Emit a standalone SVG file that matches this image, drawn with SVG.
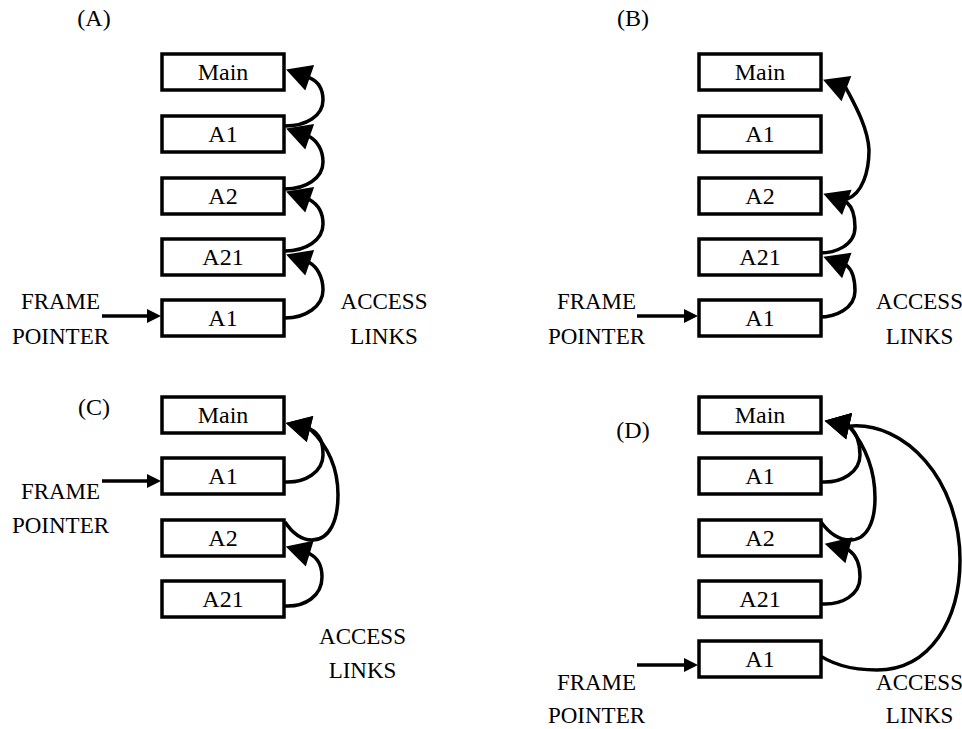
<svg xmlns="http://www.w3.org/2000/svg" width="962" height="729" viewBox="0 0 962 729">
<style>
.box{fill:#fff;stroke:#000;stroke-width:3.5}
.t{font-family:"Liberation Serif","Times New Roman",serif;font-size:24px;text-anchor:middle;fill:#000}
.lbl{font-family:"Liberation Serif","Times New Roman",serif;font-size:23px;text-anchor:middle;fill:#000}
.link{fill:none;stroke:#000;stroke-width:3.5;marker-end:url(#ah)}
.fp{fill:none;stroke:#000;stroke-width:3.5;marker-end:url(#fpa)}
</style>
<defs>
<marker id="ah" markerUnits="userSpaceOnUse" viewBox="0 -14 26 28" markerWidth="26" markerHeight="28" refX="1" refY="0" orient="auto" overflow="visible"><path d="M0,-13.5 L25,0 L0,13.5 Z" fill="#000"/></marker>
<marker id="fpa" markerUnits="userSpaceOnUse" viewBox="0 -8 15 16" markerWidth="15" markerHeight="16" refX="3" refY="0" orient="auto" overflow="visible"><path d="M0,-7 L14,0 L0,7 Z" fill="#000"/></marker>
</defs>
<rect width="962" height="729" fill="#fff"/>

<g id="labels">
<text class="t" x="94" y="26">(A)</text>
<text class="t" x="633" y="26">(B)</text>
<text class="t" x="94" y="415">(C)</text>
<text class="t" x="633" y="438">(D)</text>
<text class="lbl" x="60.5" y="309">FRAME</text>
<text class="lbl" x="60.5" y="344">POINTER</text>
<text class="lbl" x="384" y="309">ACCESS</text>
<text class="lbl" x="384" y="344">LINKS</text>
<text class="lbl" x="596.5" y="309">FRAME</text>
<text class="lbl" x="596.5" y="344">POINTER</text>
<text class="lbl" x="919.5" y="309">ACCESS</text>
<text class="lbl" x="919.5" y="344">LINKS</text>
<text class="lbl" x="60.5" y="499">FRAME</text>
<text class="lbl" x="60.5" y="532.5">POINTER</text>
<text class="lbl" x="362.5" y="644">ACCESS</text>
<text class="lbl" x="362.5" y="678">LINKS</text>
<text class="lbl" x="596.5" y="690">FRAME</text>
<text class="lbl" x="596.5" y="723">POINTER</text>
<text class="lbl" x="919.5" y="690">ACCESS</text>
<text class="lbl" x="919.5" y="723">LINKS</text>
</g>

<g id="connectors">
<path class="link" d="M285,126 C306,126 323,116 323,100 C323,88 317,81 309.7,77.8 l-0.95,-0.33"/>
<path class="link" d="M285,189 C306,189 323,178 323,162 C323,150 317,141 309.7,136.8 l-0.95,-0.33"/>
<path class="link" d="M285,251 C306,251 323,240 323,224 C323,212 317,204 309.7,199.8 l-0.95,-0.33"/>
<path class="link" d="M285,318 C306,318 323,306 323,290 C323,277 317,267 309.7,262.8 l-0.95,-0.33"/>
<path class="fp" d="M102,316 H150"/>

<path class="link" d="M847,199 C862,194 869,172 869,150 C868,128 855,105 846.4,88.7 l-0.93,-0.36"/>
<path class="link" d="M816,253 C836,254 855,245 855,227 C855,216 852,207 846.8,202.4 l-0.94,-0.35"/>
<path class="link" d="M816,317 C836,318 855,308 855,291 C855,279 852,270 846.8,265.5 l-0.94,-0.35"/>
<path class="fp" d="M637,316 H687"/>

<path class="link" d="M285,482 C305,483 323,472 323,455 C323,444 321,434 310,429 l-0.97,-0.24"/>
<path class="link" d="M285,522 C293,534 302,540 312,540 C330,540 338,520 338,495 C338,470 330,448 310,429 l-0.97,-0.24"/>
<path class="link" d="M285,606 C305,607 322,596 322,577 C322,566 318,558 309.7,553.7 l-0.96,-0.29"/>
<path class="fp" d="M102,481 H150"/>

<path class="link" d="M822,482 C842,483 860,472 860,455 C860,444 858,434 849.1,426.2 l-0.98,-0.22"/>
<path class="link" d="M821,522 C829,533 838,540 850,540 C867,540 875,522 875,498 C875,472 866,447 849.1,426.2 l-0.98,-0.22"/>
<path class="link" d="M822,604 C842,605 860,595 860,577 C860,566 857,556 848.9,550.2 l-0.97,-0.26"/>
<path class="link" d="M815,652 C830,664 850,670 877,670 C930,670 960,620 960,560 C960,480 905,421 849.1,426.2 l-0.98,-0.22"/>
<path class="fp" d="M637,665 H687"/>
</g>

<g id="A-main"><rect class="box" x="162" y="54" width="122" height="36"/><text class="t" x="223" y="80">Main</text></g>
<g id="A-a1"><rect class="box" x="162" y="116" width="122" height="36"/><text class="t" x="223" y="142">A1</text></g>
<g id="A-a2"><rect class="box" x="162" y="178" width="122" height="36"/><text class="t" x="223" y="204">A2</text></g>
<g id="A-a21"><rect class="box" x="162" y="239" width="122" height="36"/><text class="t" x="223" y="265">A21</text></g>
<g id="A-a1b"><rect class="box" x="162" y="300" width="122" height="36"/><text class="t" x="223" y="326">A1</text></g>

<g id="B-main"><rect class="box" x="699" y="54" width="122" height="36"/><text class="t" x="760" y="80">Main</text></g>
<g id="B-a1"><rect class="box" x="699" y="116" width="122" height="36"/><text class="t" x="760" y="142">A1</text></g>
<g id="B-a2"><rect class="box" x="699" y="178" width="122" height="36"/><text class="t" x="760" y="204">A2</text></g>
<g id="B-a21"><rect class="box" x="699" y="239" width="122" height="36"/><text class="t" x="760" y="265">A21</text></g>
<g id="B-a1b"><rect class="box" x="699" y="300" width="122" height="36"/><text class="t" x="760" y="326">A1</text></g>

<g id="C-main"><rect class="box" x="162" y="397" width="122" height="36"/><text class="t" x="223" y="423">Main</text></g>
<g id="C-a1"><rect class="box" x="162" y="458" width="122" height="36"/><text class="t" x="223" y="484">A1</text></g>
<g id="C-a2"><rect class="box" x="162" y="520" width="122" height="36"/><text class="t" x="223" y="546">A2</text></g>
<g id="C-a21"><rect class="box" x="162" y="581" width="122" height="36"/><text class="t" x="223" y="607">A21</text></g>

<g id="D-main"><rect class="box" x="699" y="397" width="122" height="36"/><text class="t" x="760" y="423">Main</text></g>
<g id="D-a1"><rect class="box" x="699" y="458" width="122" height="36"/><text class="t" x="760" y="484">A1</text></g>
<g id="D-a2"><rect class="box" x="699" y="520" width="122" height="36"/><text class="t" x="760" y="546">A2</text></g>
<g id="D-a21"><rect class="box" x="699" y="581" width="122" height="36"/><text class="t" x="760" y="607">A21</text></g>
<g id="D-a1b"><rect class="box" x="699" y="641" width="122" height="36"/><text class="t" x="760" y="667">A1</text></g>
</svg>
